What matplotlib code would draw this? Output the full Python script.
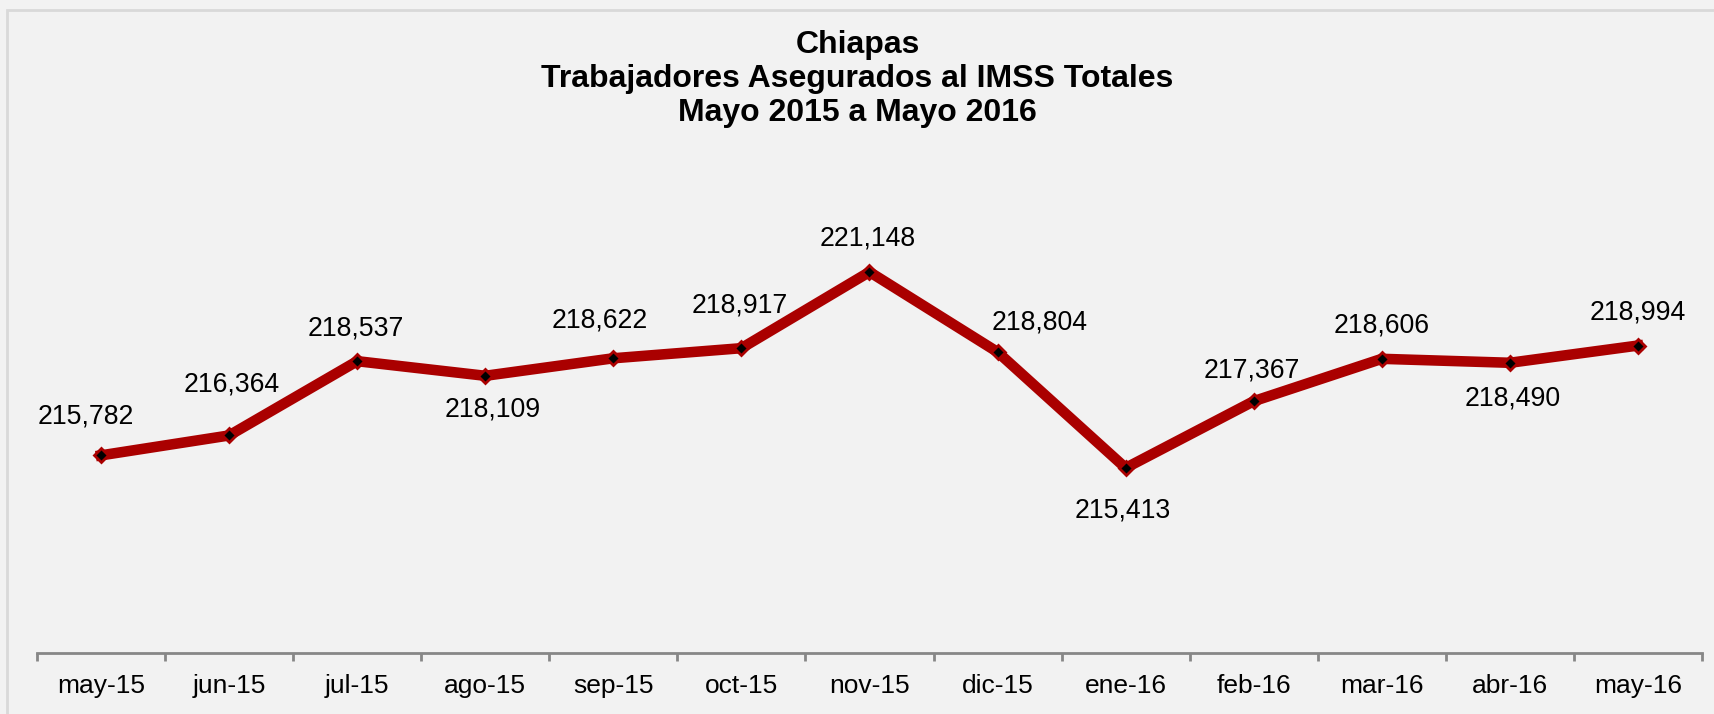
import matplotlib
matplotlib.use("Agg")
import matplotlib.pyplot as plt
from matplotlib.patches import Rectangle

months = ["may-15", "jun-15", "jul-15", "ago-15", "sep-15", "oct-15", "nov-15",
          "dic-15", "ene-16", "feb-16", "mar-16", "abr-16", "may-16"]
workers = [215782, 216364, 218537, 218109, 218622, 218917, 221148,
           218804, 215413, 217367, 218606, 218490, 218994]

title = "Chiapas\nTrabajadores Asegurados al IMSS Totales\nMayo 2015 a Mayo 2016"

# label offsets in pixels (dx, dy) relative to each point
label_offsets = [(-15, 39), (3, 51), (-1, 33), (7, -34), (-14, 38), (-2, 43), (-2, 33),
                 (42, 30), (-3, -43), (-2, 31), (0, 33), (3, -36), (0, 33)]

plt.rcParams['font.family'] = ['Liberation Sans', 'DejaVu Sans']

W, H = 1715, 714
fig = plt.figure(figsize=(W / 100, H / 100), dpi=100)
fig.patch.set_facecolor('#f2f2f2')

# outer border (only top & left visible)
fig.patches.append(Rectangle((7 / W, -0.1), 1.2, (H - 10) / H + 0.1, transform=fig.transFigure,
                             fill=False, edgecolor='#d9d9d9', linewidth=2))

ax_left = 37 / W
ax_right = 1702 / W
ax_bottom = (H - 653) / H
ax_top = (H - 242.8) / H
ax = fig.add_axes([ax_left, ax_bottom, ax_right - ax_left, ax_top - ax_bottom])
ax.set_facecolor('none')

x = list(range(len(months)))
ax.plot(x, workers, color='#aa0000', linewidth=7.6, solid_joinstyle='miter', zorder=2)
ax.plot(x, workers, linestyle='none', marker='D', markersize=7.5, markerfacecolor='black',
        markeredgecolor='#aa0000', markeredgewidth=2, zorder=3)

for xi, v, (dx, dy) in zip(x, workers, label_offsets):
    ax.annotate(f"{v:,}", (xi, v), xytext=(dx, dy), textcoords='offset pixels',
                ha='center', va='center', fontsize=19.2, color='black')

ax.set_xlim(-0.5, len(months) - 0.5)
ax.set_ylim(210000, 222000)

for s in ['left', 'right', 'top']:
    ax.spines[s].set_visible(False)
ax.spines['bottom'].set_color('#878787')
ax.spines['bottom'].set_linewidth(2)
ax.set_yticks([])

ax.set_xticks(x)
ax.set_xticklabels(months, fontsize=19)
ax.tick_params(axis='x', which='major', length=0, pad=15)
ax.set_xticks([i - 0.5 for i in range(len(months) + 1)], minor=True)
ax.tick_params(axis='x', which='minor', length=6, width=2, color='#878787', direction='out')

fig.text(0.5, (H - 79) / H, title, ha='center', va='center', fontsize=23,
         fontweight='bold', linespacing=1.17)

fig.savefig('out.png', dpi=100, facecolor=fig.get_facecolor())
